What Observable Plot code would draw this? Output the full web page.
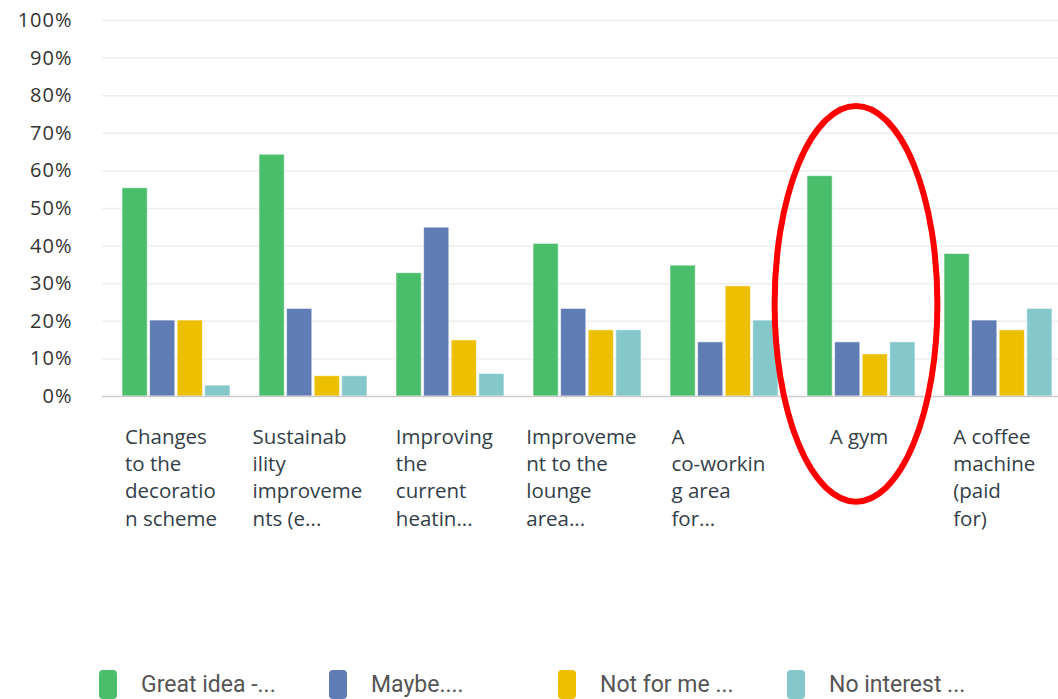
<!DOCTYPE html>
<html>
<head>
<meta charset="utf-8">
<script src="https://cdn.jsdelivr.net/npm/d3@7"></script>
<script src="https://cdn.jsdelivr.net/npm/@observablehq/plot@0.6"></script>
<style>
  html, body { margin: 0; padding: 0; background: #fff; overflow: hidden; }
  #chart svg { display: block; overflow: visible; max-width: none !important; }
  .legend { position: relative; margin-top: 110px; height: 30px; font-family: "Roboto", sans-serif; font-size: 23px; line-height: 28px; color: #555; }
  .legend .item { position: absolute; display: flex; align-items: center; top: 0; height: 29px; }
  .legend .sw { width: 18px; height: 29px; border-radius: 4px; margin-right: 24px; }
</style>
</head>
<body>
<div id="chart"></div>
<div class="legend" id="legend"></div>
<script>
// ---- data ----
const categories = [
  "Changes to the decoration scheme",
  "Sustainability improvements (e...",
  "Improving the current heatin...",
  "Improvement to the lounge area...",
  "A co-working area for...",
  "A gym",
  "A coffee machine (paid for)"
];
const categoryLabelLines = [
  ["Changes", "to the", "decoratio", "n scheme"],
  ["Sustainab", "ility", "improveme", "nts (e..."],
  ["Improving", "the", "current", "heatin..."],
  ["Improveme", "nt to the", "lounge", "area..."],
  ["A", "co-workin", "g area", "for..."],
  ["A gym"],
  ["A coffee", "machine", "(paid", "for)"]
];
const seriesNames = ["Great idea -...", "Maybe....", "Not for me ...", "No interest ..."];
const greatIdea  = [55.4, 64.3, 32.8, 40.6, 34.8, 58.6, 37.9];
const maybe      = [20.2, 23.3, 44.9, 23.3, 14.4, 14.4, 20.2];
const notForMe   = [20.2,  5.4, 14.9, 17.6, 29.3, 11.2, 17.6];
const noInterest = [ 2.9,  5.4,  6.0, 17.6, 20.2, 14.4, 23.3];
const yTicks = [0, 10, 20, 30, 40, 50, 60, 70, 80, 90, 100];
const highlighted = "A gym";

const seriesValues = [greatIdea, maybe, notForMe, noInterest];
const colors = ["#4bbe6c", "#5f7cb4", "#ecbf00", "#84c8cc"];

const rows = [];
seriesValues.forEach((vals, si) => {
  vals.forEach((v, ci) => rows.push({category: categories[ci], series: seriesNames[si], value: v}));
});

// ---- layout ----
const W = 1074, H = 560, mL = 102, mR = 0, mT = 20, mB = 164;
const padIn = 0.2, padOut = 0.123;
const step = (W - mL - mR) / (categories.length - padIn + 2 * padOut);
const bw = step * (1 - padIn);
const q = bw / 4, gap = 2;

const labelFont = "'Open Sans', sans-serif";
const labelSize = 20.5, labelLS = 1.8;
const ctx = document.createElement("canvas").getContext("2d");
ctx.font = `${labelSize}px ${labelFont}`;
function blockWidth(lines) {
  return d3.max(lines, l => ctx.measureText(l).width + l.length * labelLS);
}

const marks = [
  Plot.ruleY(yTicks.slice(1), {stroke: "#eeeeee", strokeWidth: 1.5}),
  Plot.ruleX([0], {x: () => null, stroke: "#dddddd", strokeWidth: 1.5})
];

seriesNames.forEach((s, i) => {
  marks.push(Plot.barY(rows.filter(r => r.series === s), {
    x: "category", y: "value", fill: colors[i],
    stroke: "#ffffff", strokeOpacity: 0.6, strokeWidth: 1,
    insetLeft: i * q, insetRight: (3 - i) * q + gap
  }));
});
marks.push(Plot.ruleY([0], {stroke: "#cccccc", strokeWidth: 1.5}));

categories.forEach((c, ci) => {
  const lines = categoryLabelLines[ci];
  const w = blockWidth(lines);
  marks.push(Plot.text([{category: c, text: lines.join("\n")}], {
    x: "category", y: () => 0, text: "text",
    textAnchor: "start", lineAnchor: "top", lineHeight: 27.3 / labelSize,
    dx: -w / 2 + 1, dy: 28,
    fill: "#333e48", fontSize: labelSize, fontFamily: labelFont,
    style: `letter-spacing:${labelLS}px`
  }));
});

const plot = Plot.plot({
  width: W, height: H,
  marginLeft: mL, marginRight: mR, marginTop: mT, marginBottom: mB,
  style: {fontFamily: labelFont, background: "transparent", overflow: "visible", maxWidth: "none"},
  x: {domain: categories, paddingInner: padIn, paddingOuter: padOut, axis: null},
  y: {domain: [0, 100], ticks: yTicks, tickFormat: d => d + "%", tickSize: 0, tickPadding: 30, label: null},
  marks: [
    ...marks,
    Plot.axisY(yTicks, {tickSize: 0, tickPadding: 30, tickFormat: d => d + "%", fontSize: 20, fill: "#333", label: null})
  ]
});

// highlight ellipse annotation, positioned from the scales
const sx = plot.scale("x"), sy = plot.scale("y");
const cx = sx.apply(highlighted) + sx.bandwidth / 2 - 6;
const cy = sy.apply(24.5);
const ry = sy.apply(0) - sy.apply(52.6);
const rx = sx.bandwidth * 0.74;
d3.select(plot).append("ellipse")
  .attr("cx", cx).attr("cy", cy).attr("rx", rx).attr("ry", ry)
  .attr("fill", "none").attr("stroke", "#ff0000").attr("stroke-width", 6);

d3.select(plot).selectAll("g[aria-label='y-axis tick label'] text, g[aria-label='y-axis'] text")
  .style("letter-spacing", "1px");

document.getElementById("chart").appendChild(plot);

// ---- legend ----
const legendX = [99, 329, 558, 787];
const legend = document.getElementById("legend");
seriesNames.forEach((s, i) => {
  const it = document.createElement("div");
  it.className = "item";
  it.style.left = legendX[i] + "px";
  it.innerHTML = `<span class="sw" style="background:${colors[i]}"></span><span>${s}</span>`;
  legend.appendChild(it);
});
</script>
</body>
</html>
